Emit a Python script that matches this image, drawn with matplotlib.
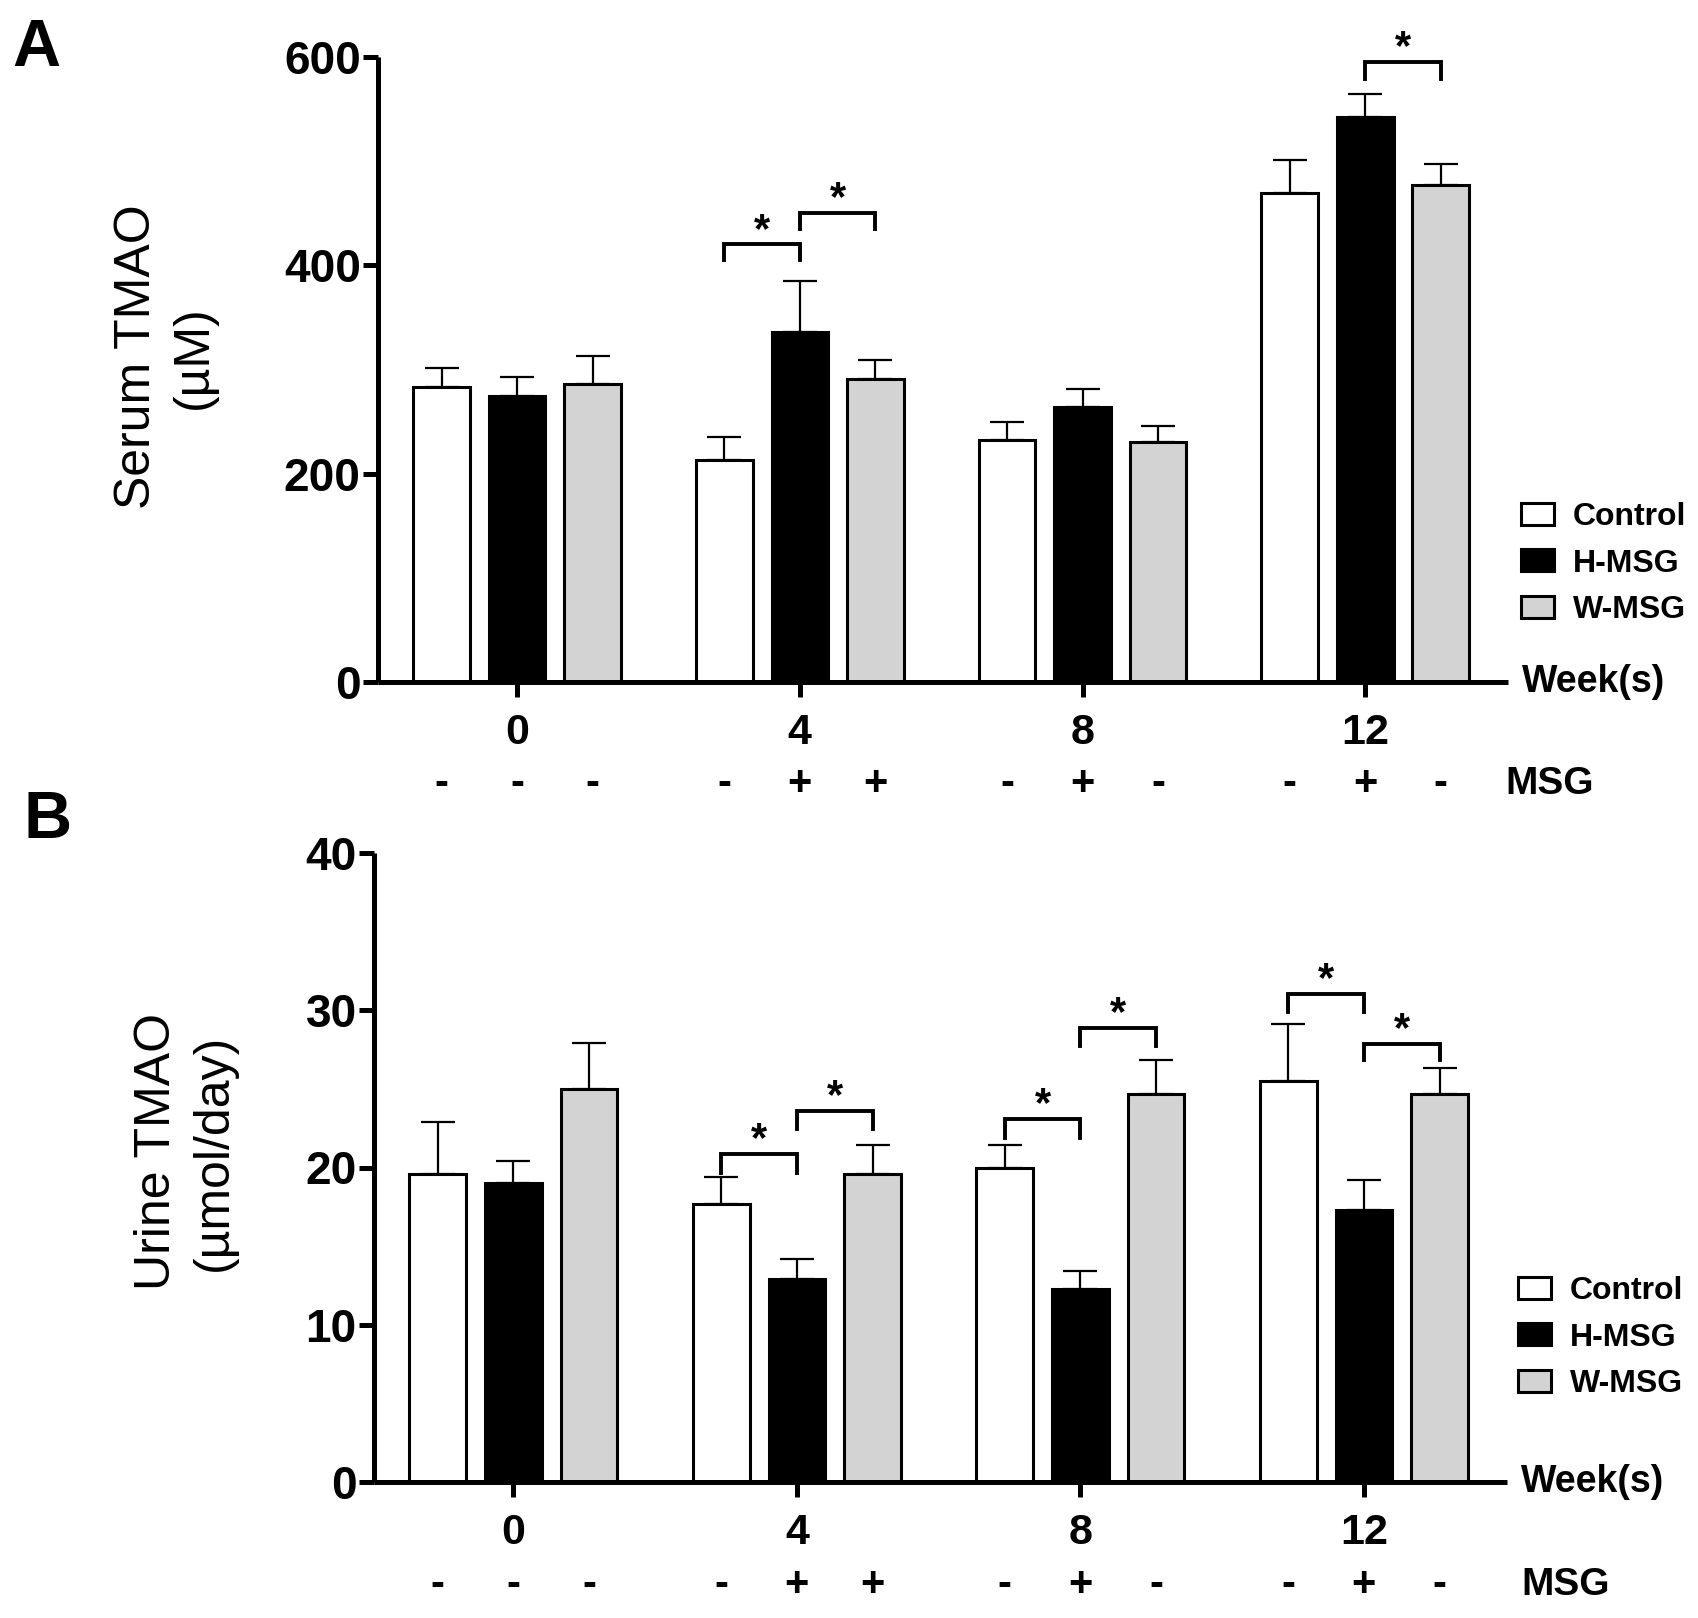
import matplotlib
matplotlib.use('Agg')
import matplotlib.pyplot as plt
import numpy as np

# ---------------- data ----------------
weeks = ['0', '4', '8', '12']
groups = ['Control', 'H-MSG', 'W-MSG']
msg_signs = [['-', '-', '-'], ['-', '+', '+'], ['-', '+', '-'], ['-', '+', '-']]

serum_control = [283, 213, 232, 469]
serum_hmsg = [275, 336, 264, 542]
serum_wmsg = [286, 291, 230, 477]
serum_control_err = [18, 22, 18, 32]
serum_hmsg_err = [18, 49, 17, 22]
serum_wmsg_err = [27, 18, 16, 20]

urine_control = [19.6, 17.7, 20.0, 25.5]
urine_hmsg = [19.0, 12.9, 12.3, 17.3]
urine_wmsg = [25.0, 19.6, 24.65, 24.65]
urine_control_err = [3.3, 1.7, 1.4, 3.6]
urine_hmsg_err = [1.4, 1.3, 1.1, 1.9]
urine_wmsg_err = [2.9, 1.8, 2.2, 1.7]

# significance brackets: (week index, left bar, right bar, bracket height, leg bottom)
serum_sig = [(1, 0, 1, 420, 405), (1, 1, 2, 450, 435), (3, 1, 2, 595, 579)]
urine_sig = [(1, 0, 1, 20.84, 19.67), (1, 1, 2, 23.58, 22.44),
             (2, 0, 1, 23.08, 21.9), (2, 1, 2, 28.86, 27.7),
             (3, 0, 1, 31.04, 29.87), (3, 1, 2, 27.86, 26.86)]

# ---------------- style ----------------
plt.rcParams['font.family'] = ['Liberation Sans', 'DejaVu Sans']
colors = ['white', 'black', '#d3d3d3']
offsets = [-0.267, 0.0, 0.267]
bar_w = 0.2

W, H = 1698, 1618
fig = plt.figure(figsize=(W / 100, H / 100), dpi=100)


def fx(px):
    return px / W


def fy(py):
    return 1 - py / H


axA = fig.add_axes([fx(378), fy(682), fx(1508 - 378), (682 - 57) / H])
axB = fig.add_axes([fx(374), fy(1482), fx(1507 - 374), (1482 - 853) / H])


def draw(ax, vals, errs, sig, ylim, yticks, ylabel, label_xy, legend_xy, star_dy):
    x = np.arange(len(weeks))
    handles = []
    for i, (v, e) in enumerate(zip(vals, errs)):
        xs = x + offsets[i]
        ax.errorbar(xs, v, yerr=[np.zeros(len(v)), e], fmt='none', ecolor='black',
                    elinewidth=1.6, capsize=12, capthick=1.6, zorder=1)
        b = ax.bar(xs, v, width=bar_w, color=colors[i], edgecolor='black',
                   linewidth=2.2, zorder=2, label=groups[i])
        handles.append(b)
    for (g, b0, b1, yb, yl) in sig:
        x0 = g + offsets[b0]
        x1 = g + offsets[b1]
        ax.plot([x0, x0, x1, x1], [yl, yb, yb, yl], color='black', lw=2.8,
                solid_joinstyle='miter', clip_on=False, zorder=3)
        ax.annotate('*', xy=((x0 + x1) / 2, yb), xytext=(0, star_dy),
                    textcoords='offset points', ha='center', va='baseline',
                    fontsize=30, fontweight='bold', annotation_clip=False)
    ax.set_xlim(-0.492, 3.505)
    ax.set_ylim(*ylim)
    ax.set_yticks(yticks)
    ax.set_xticks(x)
    ax.set_xticklabels(weeks)
    for s in ['top', 'right']:
        ax.spines[s].set_visible(False)
    for s in ['left', 'bottom']:
        ax.spines[s].set_linewidth(3.6)
        ax.spines[s].set_capstyle('butt')
    ax.tick_params(axis='both', direction='out', length=10.5, width=3.6)
    ax.tick_params(axis='y', labelsize=33, pad=2)
    ax.tick_params(axis='x', labelsize=31, pad=12)
    for t in ax.get_xticklabels() + ax.get_yticklabels():
        t.set_fontweight('bold')
    # MSG row
    trans = ax.get_xaxis_transform()
    for g in range(len(weeks)):
        for i in range(3):
            ax.text(g + offsets[i], -0.163, msg_signs[g][i], transform=trans,
                    ha='center', va='center', fontsize=30, fontweight='bold')
    ax.text(label_xy[2], -0.163, 'MSG', transform=ax.transAxes, ha='center',
            va='center', fontsize=28, fontweight='bold')
    ax.text(1.012, 0.0, 'Week(s)', transform=ax.transAxes, ha='left',
            va='center', fontsize=27, fontweight='bold')
    fig.text(fx(label_xy[0]), fy(label_xy[1]), ylabel, rotation=90, ha='center',
             va='center', multialignment='center', fontsize=36, linespacing=1.3)
    leg = fig.legend(handles=handles, loc='upper left',
                     bbox_to_anchor=(fx(legend_xy[0]), fy(legend_xy[1])),
                     frameon=False, fontsize=23, handlelength=1.03, handleheight=0.69,
                     handletextpad=0.6, labelspacing=0.52, borderpad=0, borderaxespad=0)
    for t in leg.get_texts():
        t.set_fontweight('bold')


draw(axA, [serum_control, serum_hmsg, serum_wmsg],
     [serum_control_err, serum_hmsg_err, serum_wmsg_err], serum_sig,
     (0, 600), [0, 200, 400, 600], 'Serum TMAO\n(\u00b5M)', (165, 357, 1.037),
     (1521, 502), 2)
draw(axB, [urine_control, urine_hmsg, urine_wmsg],
     [urine_control_err, urine_hmsg_err, urine_wmsg_err], urine_sig,
     (0, 40), [0, 10, 20, 30, 40], 'Urine TMAO\n(\u00b5mol/day)', (185, 1152, 1.052),
     (1518, 1276), 2)

fig.text(fx(12), fy(18), 'A', fontsize=48, fontweight='bold', ha='left', va='top')
fig.text(fx(23), fy(790), 'B', fontsize=48, fontweight='bold', ha='left', va='top')

fig.savefig('out.png', dpi=100)
